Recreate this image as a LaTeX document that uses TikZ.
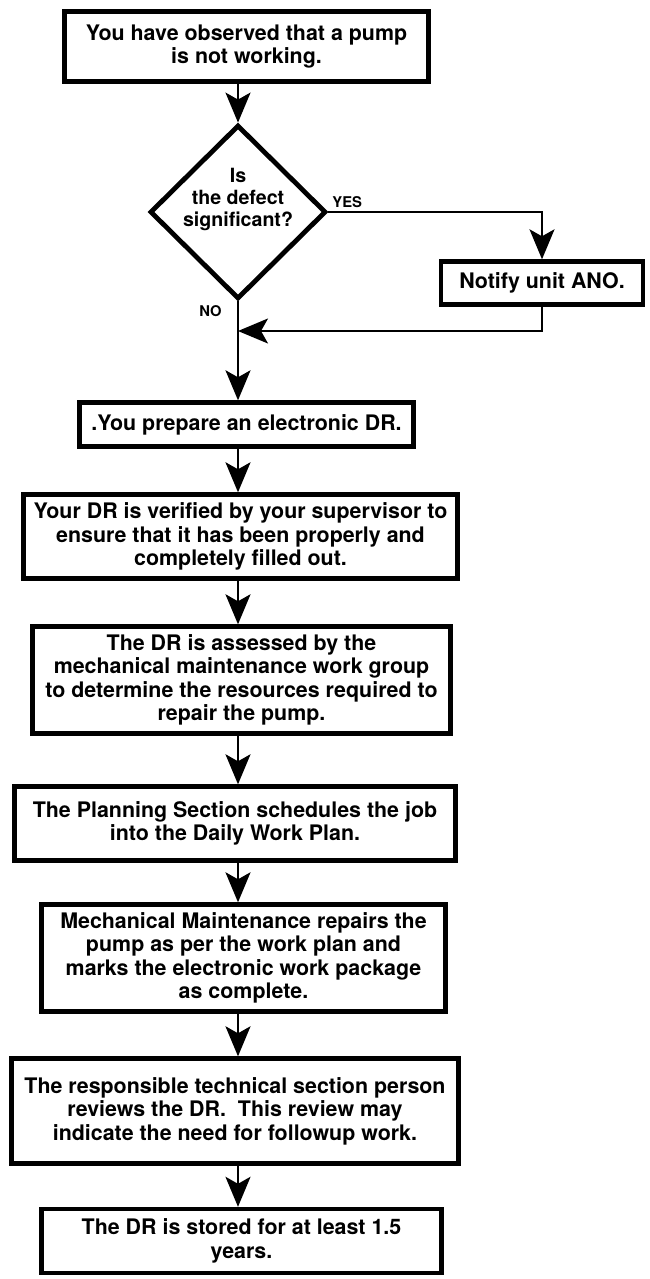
\documentclass[tikz,border=0pt]{standalone}
\usepackage{fontspec}
\setmainfont{TeX Gyre Heros}
\usetikzlibrary{arrows.meta,shapes.geometric}

\begin{document}
\begin{tikzpicture}[x=0.5pt,y=-0.5pt,
  stepbox/.style={draw=black, line width=2.2pt, rectangle, inner sep=0pt,
    align=center, font=\bfseries\fontsize{10.7}{11.7}\selectfont},
  decision/.style={draw=black, line width=2.4pt, diamond, inner sep=0pt},
  flow/.style={draw=black, line width=1.1pt,
    -{Stealth[length=15pt,width=12.5pt,inset=3.5pt]}},
  branch/.style={flow, line width=0.9pt},
  answer/.style={font=\bfseries\fontsize{7.4}{8}\selectfont, inner sep=0pt}]

\useasboundingbox (0,0) rectangle (649,1279);

% main vertical axis of the flow
\coordinate (ax) at (238,0);

\node[stepbox, minimum width=182pt, minimum height=35pt] (observe) at (246.5,46.5)
  {You have observed that a pump\\is not working.};

\node[decision, minimum width=88pt, minimum height=87pt] (defect) at (238,212) {};
\node[font=\bfseries\fontsize{9.8}{11}\selectfont, align=center, inner sep=0pt]
  (defecttext) at (238,199) {Is\\the defect\\significant?};

\node[stepbox, minimum width=101pt, minimum height=21.5pt] (notify) at (542,283)
  {Notify unit ANO.};
\coordinate (merge) at (238,331);

\node[stepbox, minimum width=167pt, minimum height=22pt] (prepare) at (246.5,424.5)
  {.You prepare an electronic DR.};

\node[stepbox, minimum width=217pt, minimum height=42pt] (verify) at (240.5,536.5)
  {Your DR is verified by your supervisor to\\ensure that it has been properly and\\completely filled out.};

\node[stepbox, minimum width=209pt, minimum height=53.5pt] (assess) at (241.5,680)
  {The DR is assessed by the\\mechanical maintenance work group\\to determine the resources required to\\repair the pump.};

\node[stepbox, minimum width=220.5pt, minimum height=37pt] (plan) at (235,823.5)
  {The Planning Section schedules the job\\into the Daily Work Plan.};

\node[stepbox, minimum width=202pt, minimum height=53.5pt] (repair) at (243.5,958)
  {Mechanical Maintenance repairs the\\pump as per the work plan and\\marks the electronic work package\\as complete.};

\node[stepbox, minimum width=223.5pt, minimum height=52.5pt] (review) at (235,1111)
  {The responsible technical section person\\reviews the DR.~ This review may\\indicate the need for followup work.};

\node[stepbox, minimum width=200pt, minimum height=32pt] (store) at (241.5,1241)
  {The DR is stored for at least 1.5\\years.};

\node[answer, anchor=south west] (yes) at (332,208) {YES};
\node[answer, anchor=east] (no) at (222,311) {NO};

% connectors
\draw[flow] (observe.south -| ax) -- (defect.north);
\draw[branch] (defect.east) -| (notify.north);
\draw[branch] (notify.south) |- (merge);
\draw[flow] (defect.south) -- (prepare.north -| ax);
\draw[flow] (prepare.south -| ax) -- (verify.north -| ax);
\draw[flow] (verify.south -| ax) -- (assess.north -| ax);
\draw[flow] (assess.south -| ax) -- (plan.north -| ax);
\draw[flow] (plan.south -| ax) -- (repair.north -| ax);
\draw[flow] (repair.south -| ax) -- (review.north -| ax);
\draw[flow] (review.south -| ax) -- (store.north -| ax);
\end{tikzpicture}
\end{document}
